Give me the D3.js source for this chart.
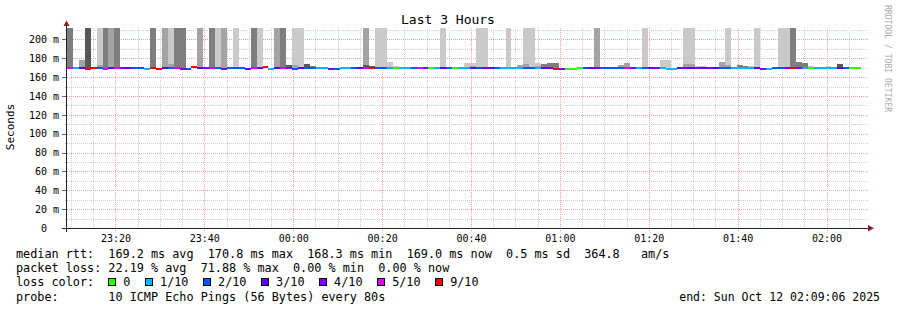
<!DOCTYPE html>
<html><head><meta charset="utf-8">
<script src="https://cdn.jsdelivr.net/npm/d3@7"></script>
<style>
html,body{margin:0;padding:0;background:#fff;}
svg{display:block;}
text{font-family:"DejaVu Sans Mono",monospace;white-space:pre;}
</style></head><body>
<svg id="chart" width="897" height="310"></svg>
<script>
// ---------------- data ----------------
const title = "Last 3 Hours";
const yAxisTitle = "Seconds";
const watermark = "RRDTOOL / TOBI OETIKER";
const startTime = new Date(2025, 9, 11, 23, 9, 6);
const endTime = new Date(2025, 9, 12, 2, 9, 6);
const stepSeconds = 80;
const yDomainMax = 212.2;
const yTickValues = [0, 20, 40, 60, 80, 100, 120, 140, 160, 180, 200];
const yMinorValues = [10, 30, 50, 70, 90, 110, 130, 150, 170, 190, 210];

// median rtt (ms) per 80 s step
const median = [
  169.5,169.4,169.6,168.6,169.4,169.5,168.7,169.4,169.6,169.5,
  169.4,169.5,169.6,168.7,169.5,168.6,169.4,169.5,169.6,168.8,
  168.7,170.6,169.5,169.4,169.5,169.6,168.8,169.4,169.5,169.5,
  168.7,169.4,169.6,170.5,168.6,169.5,169.4,169.5,168.8,169.4,
  169.5,169.6,169.4,169.5,168.7,168.6,169.5,169.4,169.5,169.6,
  169.4,169.5,169.4,169.6,169.5,169.4,169.5,169.6,169.4,169.5,
  169.4,169.5,169.6,169.4,169.5,169.4,169.6,169.5,169.4,169.5,
  169.6,169.4,169.5,169.4,169.5,169.6,169.4,169.5,169.4,169.5,
  169.6,169.4,168.5,168.6,168.4,168.5,169.4,169.5,169.6,169.4,
  169.5,169.4,169.6,169.5,169.4,169.5,169.6,169.4,169.5,169.4,
  169.5,168.7,168.6,169.5,169.4,169.6,169.5,169.4,169.5,169.6,
  169.4,169.5,169.4,169.6,169.5,169.4,169.5,168.7,168.6,169.4,
  169.5,169.6,169.4,169.5,169.4,169.5,169.6,169.4,169.5,169.4,
  169.5,169.4,169.6,169.4
];
// lost pings out of 10 per step
const loss = [
  5,1,3,9,9,2,5,3,5,4,
  3,2,2,1,9,9,3,2,5,4,
  2,9,3,4,5,2,4,2,2,2,
  3,5,3,9,1,3,5,4,2,3,
  2,2,1,1,4,2,1,1,2,3,
  5,9,2,2,1,0,1,1,2,5,
  4,0,1,3,2,0,1,1,3,2,
  4,3,2,1,1,1,1,2,2,1,
  3,4,9,4,0,0,0,2,3,4,
  2,2,2,2,5,4,1,2,3,4,
  1,1,1,3,4,3,4,3,4,3,
  2,2,1,1,1,1,3,4,1,2,
  2,4,9,4,1,0,1,1,1,1,
  3,2,0,0
];
// outer smoke band top (ms, 0 = none; values above the axis top are clipped)
const smokeTop = [
  250,0,178,250,0,250,250,250,250,0,
  0,0,0,0,250,0,250,250,250,250,
  0,0,250,0,250,250,250,0,250,0,
  0,250,250,0,0,250,250,173,250,250,
  174,172,171,0,0,0,0,0,0,0,
  250,172,250,250,176,172,0,0,0,0,
  0,0,0,250,0,0,0,175,175,250,
  250,0,0,0,250,0,173,250,250,175,
  174,175,175,0,0,0,0,0,0,250,
  0,0,0,173,175,0,0,250,0,0,
  178,178,0,0,250,250,172,172,0,0,
  176,250,0,173,172,172,250,0,0,0,
  250,250,250,176,175,172,0,0,172,171,
  174,171,0,171
];
// smoke shade index (1 = lightest .. 4 = darkest)
const smokeShade = [
  3,0,2,4,0,1,3,2,3,0,
  0,0,0,0,3,0,2,1,3,3,
  0,0,2,0,3,1,2,0,1,0,
  0,3,1,0,0,2,3,4,1,1,
  4,3,1,0,0,0,0,0,0,0,
  2,4,1,1,1,1,0,0,0,0,
  0,0,0,1,0,0,0,1,1,1,
  1,0,0,0,1,0,2,1,1,1,
  3,3,3,0,0,0,0,0,0,2,
  0,0,0,2,2,0,0,1,0,0,
  1,1,0,0,1,1,1,1,0,0,
  2,1,0,3,3,1,1,0,0,0,
  1,1,3,3,3,1,0,0,1,1,
  4,3,0,1
];
// inner smoke band top (ms, 0 = none) and shade
const innerTop = [
  0,0,0,0,0,173,0,0,0,0,
  0,0,0,0,0,0,0,174,0,0,
  0,0,0,0,0,0,0,0,0,0,
  0,0,0,0,0,0,0,0,173,0,
  0,0,0,0,0,0,0,0,0,0,
  173,0,0,0,0,0,0,0,0,0,
  0,0,0,0,0,0,0,0,172,0,
  0,0,0,0,0,0,0,174,0,172,
  0,0,0,0,0,0,0,0,0,0,
  0,0,0,0,0,0,0,0,0,0,
  0,0,0,0,174,174,0,0,0,0,
  0,173,0,0,0,0,0,0,0,0,
  0,0,0,0,0,0,0,0,0,0,
  0,0,0,0
];
const innerShade = [
  0,0,0,0,0,2,0,0,0,0,
  0,0,0,0,0,0,0,2,0,0,
  0,0,0,0,0,0,0,0,0,0,
  0,0,0,0,0,0,0,0,2,0,
  0,0,0,0,0,0,0,0,0,0,
  4,0,0,0,0,0,0,0,0,0,
  0,0,0,0,0,0,0,0,2,0,
  0,0,0,0,0,0,0,2,0,2,
  0,0,0,0,0,0,0,0,0,0,
  0,0,0,0,0,0,0,0,0,0,
  0,0,0,0,2,2,0,0,0,0,
  0,2,0,0,0,0,0,0,0,0,
  0,0,0,0,0,0,0,0,0,0,
  0,0,0,0
];
const shadeColors = ["none", "#cacaca", "#a4a4a4", "#7e7e7e", "#585858"];
const lossThresholds = [0, 1, 2, 3, 4, 5, 9];
const lossColors = ["#26ff00", "#00b8ff", "#0059ff", "#5e00ff", "#7e00ff", "#dd00ff", "#ff0000"];
const lossLabels = ["0", "1/10", "2/10", "3/10", "4/10", "5/10", "9/10"];
const legendLines = [
  "median rtt:  169.2 ms avg  170.8 ms max  168.3 ms min  169.0 ms now  0.5 ms sd  364.8   am/s",
  "packet loss: 22.19 % avg  71.88 % max  0.00 % min  0.00 % now",
  "loss color:",
  "probe:       10 ICMP Echo Pings (56 Bytes) every 80s"
];
const endLabel = "end: Sun Oct 12 02:09:06 2025";

// ---------------- drawing ----------------
const svg = d3.select("#chart");
const P = {left: 67, right: 867, top: 28, bottom: 228};
const x = d3.scaleTime().domain([startTime, endTime]).range([P.left, P.right]);
const y = d3.scaleLinear().domain([0, yDomainMax]).range([P.bottom, P.top]);

svg.append("rect").attr("width", 897).attr("height", 310).attr("fill", "#fff");

const minorColor = "#cdcdcd", majorColor = "#f2a0a0";
const grid = svg.append("g").attr("shape-rendering", "crispEdges");
const minorTimes = d3.timeMinute.every(5).range(startTime, endTime).filter(t => t.getMinutes() % 20 !== 0);
const majorTimes = d3.timeMinute.every(20).range(startTime, endTime);

grid.selectAll(".vmin").data(minorTimes).join("line")
  .attr("x1", d => Math.round(x(d)) + 0.5).attr("x2", d => Math.round(x(d)) + 0.5)
  .attr("y1", P.top).attr("y2", P.bottom + 2)
  .attr("stroke", minorColor).attr("stroke-dasharray", "1,1");
grid.selectAll(".hmin").data(yMinorValues).join("line")
  .attr("x1", P.left - 2).attr("x2", P.right + 1)
  .attr("y1", d => Math.round(y(d)) + 0.5).attr("y2", d => Math.round(y(d)) + 0.5)
  .attr("stroke", minorColor).attr("stroke-dasharray", "1,1");
grid.selectAll(".vmaj").data(majorTimes).join("line")
  .attr("x1", d => Math.round(x(d)) + 0.5).attr("x2", d => Math.round(x(d)) + 0.5)
  .attr("y1", P.top).attr("y2", P.bottom + 3)
  .attr("stroke", majorColor).attr("stroke-dasharray", "1,1");
grid.selectAll(".hmaj").data(yTickValues.filter(v => v > 0)).join("line")
  .attr("x1", P.left).attr("x2", P.right + 1)
  .attr("y1", d => Math.round(y(d)) + 0.5).attr("y2", d => Math.round(y(d)) + 0.5)
  .attr("stroke", majorColor).attr("stroke-dasharray", "1,1");

// steps
const steps = median.map((m, i) => {
  const t0 = new Date(startTime.getTime() + i * stepSeconds * 1000);
  const t1 = new Date(t0.getTime() + stepSeconds * 1000);
  return {i, m, loss: loss[i], top: smokeTop[i], shade: smokeShade[i], itop: innerTop[i], ishade: innerShade[i],
    x0: Math.round(x(t0)), x1: Math.round(x(t1))};
});

svg.append("clipPath").attr("id", "plotclip").append("rect")
  .attr("x", P.left).attr("y", P.top).attr("width", P.right - P.left + 1).attr("height", P.bottom - P.top);

const g = svg.append("g").attr("clip-path", "url(#plotclip)").attr("shape-rendering", "crispEdges");
g.selectAll(".smoke").data(steps.filter(d => d.top > 0)).join("rect")
  .attr("x", d => d.x0).attr("width", d => d.x1 - d.x0)
  .attr("y", d => Math.round(y(Math.min(d.top, yDomainMax + 5))))
  .attr("height", d => Math.round(y(d.m)) - Math.round(y(Math.min(d.top, yDomainMax + 5))))
  .attr("fill", d => shadeColors[d.shade]);
g.selectAll(".inner").data(steps.filter(d => d.itop > 0)).join("rect")
  .attr("x", d => d.x0).attr("width", d => d.x1 - d.x0)
  .attr("y", d => Math.round(y(d.itop)))
  .attr("height", d => Math.round(y(d.m)) - Math.round(y(d.itop)))
  .attr("fill", d => shadeColors[d.ishade]);

function lossColor(l) {
  let c = lossColors[0];
  lossThresholds.forEach((t, k) => { if (l >= t) c = lossColors[k]; });
  return c;
}
g.selectAll(".med").data(steps).join("rect")
  .attr("x", d => d.x0).attr("width", d => d.x1 - d.x0)
  .attr("y", d => Math.round(y(d.m)) - 1).attr("height", 2)
  .attr("fill", d => lossColor(d.loss));

// axes
const axisColor = "#222";
const yAxis = svg.append("g").attr("transform", `translate(${P.left},0)`)
  .call(d3.axisLeft(y).tickValues(yTickValues).tickSize(5).tickPadding(3)
    .tickFormat(v => v === 0 ? "0\u00a0\u00a0" : v + "\u00a0m"));
yAxis.select(".domain").remove();
yAxis.selectAll(".tick line").attr("stroke", "#666").attr("shape-rendering", "crispEdges");
yAxis.selectAll(".tick text").attr("font-family", "DejaVu Sans Mono").attr("font-size", 10).attr("fill", "#000");

const xAxis = svg.append("g").attr("transform", `translate(0,${P.bottom})`)
  .call(d3.axisBottom(x).tickValues(majorTimes).tickSize(0).tickPadding(7)
    .tickFormat(d3.timeFormat("%H:%M")));
xAxis.select(".domain").remove();
xAxis.selectAll(".tick line").remove();
xAxis.selectAll(".tick text").attr("font-family", "DejaVu Sans Mono").attr("font-size", 10).attr("fill", "#000");

svg.append("line").attr("x1", 62).attr("x2", P.right + 2).attr("y1", P.bottom + 0.5).attr("y2", P.bottom + 0.5)
  .attr("stroke", axisColor).attr("shape-rendering", "crispEdges");
svg.append("line").attr("x1", P.left - 0.5).attr("x2", P.left - 0.5).attr("y1", P.bottom + 4).attr("y2", 26)
  .attr("stroke", axisColor).attr("shape-rendering", "crispEdges");
const arrowColor = "#8a1f1f";
svg.append("path").attr("d", `M${P.left - 3.5},26 L${P.left + 2.5},26 L${P.left - 0.5},20.5 Z`).attr("fill", arrowColor);
svg.append("path").attr("d", `M${P.right + 1},225 L${P.right + 1},231.5 L${P.right + 7},228.3 Z`).attr("fill", arrowColor);

// texts
svg.append("text").attr("x", 448).attr("y", 24).attr("text-anchor", "middle")
  .attr("font-size", 13).attr("fill", "#000").text(title);
svg.append("text").attr("transform", "translate(13.5,127) rotate(-90)").attr("text-anchor", "middle")
  .attr("font-size", 11).attr("fill", "#000").text(yAxisTitle);
svg.append("text").attr("transform", "translate(885,5) rotate(90)").attr("text-anchor", "start")
  .attr("font-size", 8.1).attr("fill", "#ababab").text(watermark);

const legendBase = [258, 272.2, 286.4, 300.6];
const fs = 11.8;
legendLines.forEach((s, k) => {
  svg.append("text").attr("x", 16).attr("y", legendBase[k]).attr("font-size", fs)
    .attr("xml:space", "preserve").attr("fill", "#000").text(s);
});
let bx = 16 + 13 * fs * 0.602;
lossLabels.forEach((lab, k) => {
  svg.append("rect").attr("x", Math.round(bx) + 0.5).attr("y", legendBase[2] - 7.9).attr("width", 7).attr("height", 7)
    .attr("fill", lossColors[k]).attr("stroke", "#000").attr("stroke-width", 1).attr("shape-rendering", "crispEdges");
  const t = svg.append("text").attr("x", bx + 15).attr("y", legendBase[2]).attr("font-size", fs)
    .attr("fill", "#000").text(lab);
  bx = bx + 15 + t.node().getComputedTextLength() + 14.6;
});
svg.append("text").attr("x", 880).attr("y", legendBase[3]).attr("text-anchor", "end").attr("font-size", 11.5)
  .attr("fill", "#000").text(endLabel);
</script>
</body></html>
